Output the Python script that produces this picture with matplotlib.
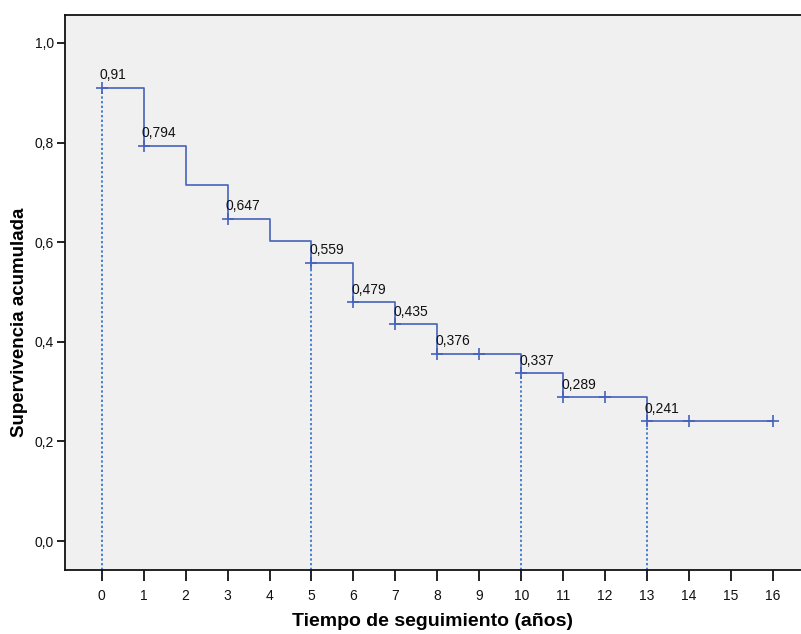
import matplotlib
matplotlib.use("Agg")
import matplotlib.pyplot as plt

plt.rcParams['font.family'] = ['Liberation Sans', 'DejaVu Sans']

years = [0, 1, 2, 3, 4, 5, 6, 7, 8, 9, 10, 11, 12, 13, 14, 15, 16]
survival = [0.910, 0.794, 0.715, 0.647, 0.603, 0.559, 0.479, 0.435, 0.376,
            0.376, 0.337, 0.289, 0.289, 0.241, 0.241, 0.241, 0.241]
censored_t = [0, 1, 3, 5, 6, 7, 8, 9, 10, 11, 12, 13, 14, 16]
label_t = [0, 1, 3, 5, 6, 7, 8, 10, 11, 13]
label_txt = ["0,91", "0,794", "0,647", "0,559", "0,479", "0,435", "0,376",
             "0,337", "0,289", "0,241"]
dotted_t = [0, 5, 10, 13]
yticks = [0.0, 0.2, 0.4, 0.6, 0.8, 1.0]
ytick_labels = ["0,0", "0,2", "0,4", "0,6", "0,8", "1,0"]

line_col = '#4563BA'
dot_col = '#4A80D0'

fig = plt.figure(figsize=(8.01, 6.34), dpi=100)
W, H = 801, 634
ax = fig.add_axes([65 / W, 1 - 570 / H, (801 - 65) / W, (570 - 15) / H])
ax.set_facecolor('#F0F0F0')

ax.set_xlim(-0.875, 16.67)
ax.set_ylim(-0.058, 1.056)

sv = dict(zip(years, survival))
ymin = ax.get_ylim()[0]
for t in dotted_t:
    ax.plot([t, t], [ymin, sv[t]], linestyle=(0, (1.2, 1.2)), color=dot_col,
            lw=1.4, zorder=2)

ax.step(years, survival, where='post', color=line_col, lw=1.2, zorder=3)
ax.plot(censored_t, [sv[t] for t in censored_t], linestyle='none', marker='+',
        markersize=8, markeredgewidth=1.2, color=line_col, zorder=4)

for t, s in zip(label_t, label_txt):
    ax.annotate(s, (t, sv[t]), xytext=(-1.5, 6), textcoords='offset points',
                ha='left', va='baseline', fontsize=10, color='#111111', zorder=5)

ax.set_xticks(years)
ax.set_xticklabels([str(y) for y in years])
ax.set_yticks(yticks)
ax.set_yticklabels(ytick_labels)
ax.tick_params(axis='x', direction='out', length=8, width=1.3, labelsize=10,
               pad=6, colors='#111111')
ax.tick_params(axis='y', direction='out', length=6, width=1.3, labelsize=10,
               pad=2, colors='#111111')

for side in ['left', 'bottom', 'top']:
    ax.spines[side].set_linewidth(1.3)
    ax.spines[side].set_color('#111111')
ax.spines['right'].set_visible(False)

ax.set_xlabel('Tiempo de seguimiento (años)', fontsize=14, fontweight='bold')
ax.set_ylabel('Supervivencia acumulada', fontsize=13.5, fontweight='bold')
ax.xaxis.set_label_coords(0.5, (570 - 613) / 555)
ax.yaxis.set_label_coords((28 - 65) / 736, (570 - 322) / 555)

fig.savefig('out.png', dpi=100, facecolor='white')
